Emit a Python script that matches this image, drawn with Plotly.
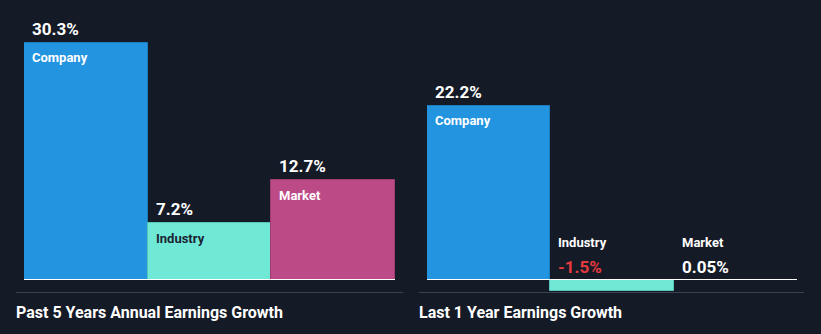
import plotly.graph_objects as go

# Earnings growth data
categories = ["Company", "Industry", "Market"]
past_5y = [30.3, 7.2, 12.7]
last_1y = [22.2, -1.5, 0.05]
past_5y_labels = ["30.3%", "7.2%", "12.7%"]
last_1y_labels = ["22.2%", "-1.5%", "0.05%"]
panel_titles = ["Past 5 Years Annual Earnings Growth", "Last 1 Year Earnings Growth"]

W, H = 821, 334
BG = "#151b26"
bar_colors = ["#2394df", "#6fe9d6", "#bc4a87"]
edge_colors = ["#1d7cc0", "#56c6b6", "#9e3d71"]
FONT = "Roboto"

# vertical scale: zero line centred on pixel row 279, ~7.82 px per percentage point
base_px, ppu = 279.5, 7.82
y_range = [-(H - base_px) / ppu, base_px / ppu]

fig = go.Figure()

panels = [
    dict(vals=past_5y, labels=past_5y_labels, xa="x", ya="y", dom=[24, 395], div=[16, 403], tx=16),
    dict(vals=last_1y, labels=last_1y_labels, xa="x2", ya="y2", dom=[427, 797], div=[419, 804], tx=419),
]

annotations = []
shapes = []
for i, p in enumerate(panels):
    edge_widths = [1 if abs(v) >= 1 else 0 for v in p["vals"]]
    fig.add_trace(go.Bar(
        x=categories, y=p["vals"], xaxis=p["xa"], yaxis=p["ya"],
        marker=dict(color=bar_colors, line=dict(color=edge_colors, width=edge_widths)),
        hoverinfo="skip", showlegend=False,
    ))
    # zero baseline
    shapes.append(dict(type="line", xref=f"{p['xa']} domain", yref=p["ya"],
                       x0=0, x1=1, y0=0, y1=0, line=dict(color="#ffffff", width=1.2), layer="above"))
    # divider under the panel
    shapes.append(dict(type="line", xref="paper", yref="paper",
                       x0=p["div"][0] / W, x1=p["div"][1] / W, y0=(H - 292.5) / H, y1=(H - 292.5) / H,
                       line=dict(color="#3b414d", width=1)))
    annotations.append(dict(text=f"<b>{panel_titles[i]}</b>", xref="paper", yref="paper",
                            x=p["tx"] / W, y=(H - 312) / H, xanchor="left", yanchor="middle",
                            xshift=-2, showarrow=False, font=dict(family=FONT, size=16, color="#ffffff")))
    for j, (cat, v, lab) in enumerate(zip(categories, p["vals"], p["labels"])):
        top = max(v, 0)
        if v >= 3:
            name_color = "#1c2433" if cat == "Industry" else "#ffffff"
            annotations.append(dict(text=f"<b>{cat}</b>", xref=p["xa"], yref=p["ya"],
                                    x=j - 0.5, y=top, xanchor="left", yanchor="middle",
                                    xshift=6, yshift=-15, showarrow=False,
                                    font=dict(family=FONT, size=13, color=name_color)))
            annotations.append(dict(text=lab, xref=p["xa"], yref=p["ya"],
                                    x=j - 0.5, y=top, xanchor="left", yanchor="middle",
                                    xshift=6, yshift=14, showarrow=False,
                                    font=dict(family=FONT, size=17, color="#ffffff", weight="bold")))
        else:
            annotations.append(dict(text=f"<b>{cat}</b>", xref=p["xa"], yref=p["ya"],
                                    x=j - 0.5, y=0, xanchor="left", yanchor="middle",
                                    xshift=6, yshift=37, showarrow=False,
                                    font=dict(family=FONT, size=13, color="#ffffff")))
            annotations.append(dict(text=lab, xref=p["xa"], yref=p["ya"],
                                    x=j - 0.5, y=0, xanchor="left", yanchor="middle",
                                    xshift=6, yshift=13, showarrow=False,
                                    font=dict(family=FONT, size=17,
                                              color="#e5393f" if v < 0 else "#ffffff", weight="bold")))

axis_common = dict(showgrid=False, zeroline=False, showticklabels=False, ticks="", fixedrange=True)
fig.update_layout(
    width=W, height=H, margin=dict(l=0, r=0, t=0, b=0),
    paper_bgcolor=BG, plot_bgcolor=BG, bargap=0,
    xaxis=dict(domain=[24 / W, 395 / W], range=[-0.5, 2.5], **axis_common),
    xaxis2=dict(domain=[427 / W, 797 / W], range=[-0.5, 2.5], **axis_common),
    yaxis=dict(domain=[0, 1], range=y_range, **axis_common),
    yaxis2=dict(domain=[0, 1], range=y_range, anchor="x2", **axis_common),
    shapes=shapes, annotations=annotations,
)

fig.write_html("out.html")
